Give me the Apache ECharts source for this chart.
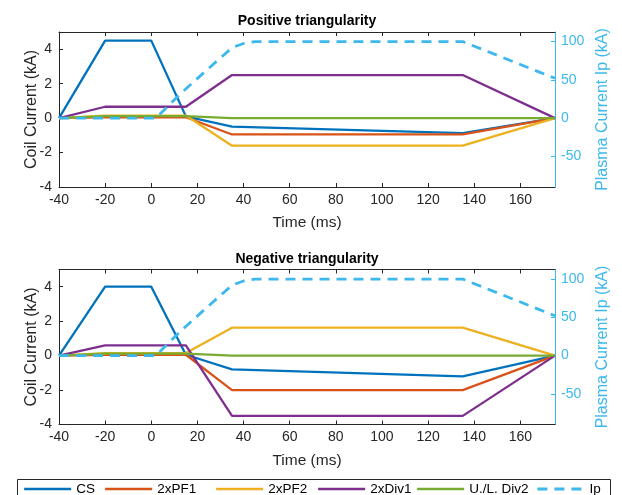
<!DOCTYPE html>
<html>
<head>
<meta charset="utf-8">
<script src="https://cdn.jsdelivr.net/npm/echarts@6/dist/echarts.min.js"></script>
<style>
html,body{margin:0;padding:0;background:#fff;}
#chart{width:622px;height:495px;}
</style>
</head>
<body>
<div id="chart"></div>
<script>
// ---- Data (time in ms, coil currents in kA, plasma current in kA) ----
const seriesNames = ['CS', '2xPF1', '2xPF2', '2xDiv1', 'U./L. Div2', 'Ip'];
const xTicks = [-40, -20, 0, 20, 40, 60, 80, 100, 120, 140, 160];
const leftTicks = [-4, -2, 0, 2, 4];
const rightTicks = [-50, 0, 50, 100];

// Positive triangularity
const posCS   = [[-40,0],[-20,4.5],[0,4.5],[15,0.1],[35,-0.5],[135,-0.87],[175,0]];
const posPF1  = [[-40,0],[-20,0.05],[15,0.05],[35,-0.95],[135,-0.95],[175,0]];
const posPF2  = [[-40,0],[-20,0.15],[15,0.15],[35,-1.6],[135,-1.6],[175,0]];
const posDiv1 = [[-40,0],[-20,0.66],[15,0.66],[35,2.5],[135,2.5],[175,0]];
const posDiv2 = [[-40,0],[-20,0.12],[15,0.12],[35,0],[135,0],[175,0]];
const posIp   = [[-40,0],[2,0],[12,30],[23,60],[35,92],[40,97.5],[45,100],[135,100],[175,52]];

// Negative triangularity
const negCS   = [[-40,0],[-20,4],[0,4],[15,0.05],[35,-0.8],[135,-1.2],[175,0]];
const negPF1  = [[-40,0],[-20,0.05],[15,0.05],[35,-2],[135,-2],[175,0]];
const negPF2  = [[-40,0],[-20,0.15],[15,0.15],[35,1.62],[135,1.62],[175,0]];
const negDiv1 = [[-40,0],[-20,0.6],[15,0.6],[35,-3.5],[135,-3.5],[175,0]];
const negDiv2 = [[-40,0],[-20,0.12],[15,0.12],[35,0],[135,0],[175,0]];
const negIp   = [[-40,0],[2,0],[12,30],[23,60],[35,92],[40,97.5],[45,100],[135,100],[175,52]];

const titles = ['Positive triangularity', 'Negative triangularity'];

// ---- Styling ----
const colors = ['#0072BD', '#D95319', '#EDB120', '#7E2F8E', '#77AC30', '#3DB8EC'];
const FONT = 'Liberation Sans, Arial, Helvetica, sans-serif';
const TXT = '#262626';
const IPC = '#3DB8EC';

const plotLeft = 59, plotWidth = 496, plotHeight = 155;
const gridTops = [32, 269.5];

const chart = echarts.init(document.getElementById('chart'), null, {renderer: 'canvas'});

function xAx(gi, top) {
  return {
    type: 'value', gridIndex: gi, min: -40, max: 175,
    position: top ? 'top' : 'bottom',
    name: top ? '' : 'Time (ms)', nameLocation: 'middle', nameGap: 28, nameMoveOverlap: false,
    nameTextStyle: {fontFamily: FONT, fontSize: 15.5, color: TXT},
    axisLine: {show: true, onZero: false, lineStyle: {color: TXT, width: 1}},
    axisTick: {show: true, inside: true, length: 4, customValues: xTicks, lineStyle: {color: TXT}},
    axisLabel: {show: !top, customValues: xTicks, fontFamily: FONT, fontSize: 14, color: TXT, margin: 6},
    splitLine: {show: false}
  };
}
function yLeft(gi) {
  return {
    type: 'value', gridIndex: gi, min: -4, max: 5, position: 'left',
    name: 'Coil Current (kA)', nameLocation: 'middle', nameGap: 19, nameRotate: 90, nameMoveOverlap: false,
    nameTextStyle: {fontFamily: FONT, fontSize: 16, color: TXT},
    axisLine: {show: true, onZero: false, lineStyle: {color: TXT, width: 1}},
    axisTick: {show: true, inside: true, length: 4, customValues: leftTicks, lineStyle: {color: TXT}},
    axisLabel: {customValues: leftTicks, fontFamily: FONT, fontSize: 14, color: TXT, margin: 7},
    splitLine: {show: false}
  };
}
function yRight(gi) {
  return {
    type: 'value', gridIndex: gi, min: -90, max: 112.5, position: 'right',
    name: 'Plasma Current Ip (kA)', nameLocation: 'middle', nameGap: 40, nameRotate: 90, nameMoveOverlap: false,
    nameTextStyle: {fontFamily: FONT, fontSize: 16, color: IPC},
    axisLine: {show: true, onZero: false, lineStyle: {color: IPC, width: 1}},
    axisTick: {show: true, inside: true, length: 4, customValues: rightTicks, lineStyle: {color: IPC}},
    axisLabel: {customValues: rightTicks, fontFamily: FONT, fontSize: 14, color: IPC, margin: 6},
    splitLine: {show: false}
  };
}

const groups = [
  [posCS, posPF1, posPF2, posDiv1, posDiv2, posIp],
  [negCS, negPF1, negPF2, negDiv1, negDiv2, negIp]
];

const series = [];
groups.forEach((grp, gi) => {
  grp.forEach((data, si) => {
    const isIp = si === 5;
    series.push({
      type: 'line', name: seriesNames[si], data: data,
      xAxisIndex: gi * 2, yAxisIndex: gi * 2 + (isIp ? 1 : 0),
      symbol: 'none', silent: true, z: 2 + si,
      lineStyle: {color: colors[si], width: isIp ? 2.8 : 2.3, type: isIp ? [10, 7] : 'solid'},
      itemStyle: {color: colors[si]}
    });
  });
});

const legendLefts = [23, 104, 215, 317, 416, 536];
const legends = seriesNames.map((n, i) => ({
  data: [n], left: legendLefts[i], top: 482, itemWidth: 47, itemHeight: 12,
  padding: 0, selectedMode: false,
  itemStyle: {opacity: 0},
  lineStyle: {width: i === 5 ? 2.8 : 2.3},
  textStyle: {fontFamily: FONT, fontSize: 13.5, color: '#000'}
}));

const option = {
  animation: false,
  backgroundColor: '#fff',
  title: titles.map((t, i) => ({
    text: t, left: plotLeft + plotWidth / 2, top: i === 0 ? 14.5 : 252, textAlign: 'center', padding: 0,
    textStyle: {fontFamily: FONT, fontSize: 14, fontWeight: 'bold', color: '#000'}
  })),
  graphic: [{
    type: 'rect', shape: {x: 17.5, y: 479.5, width: 593, height: 30},
    style: {fill: '#fff', stroke: '#262626', lineWidth: 1}, z: -1
  }],
  legend: legends,
  grid: gridTops.map(t => ({left: plotLeft, top: t, width: plotWidth, height: plotHeight, containLabel: false})),
  xAxis: [xAx(0, false), xAx(0, true), xAx(1, false), xAx(1, true)],
  yAxis: [yLeft(0), yRight(0), yLeft(1), yRight(1)],
  series: series
};

chart.setOption(option);
</script>
</body>
</html>
